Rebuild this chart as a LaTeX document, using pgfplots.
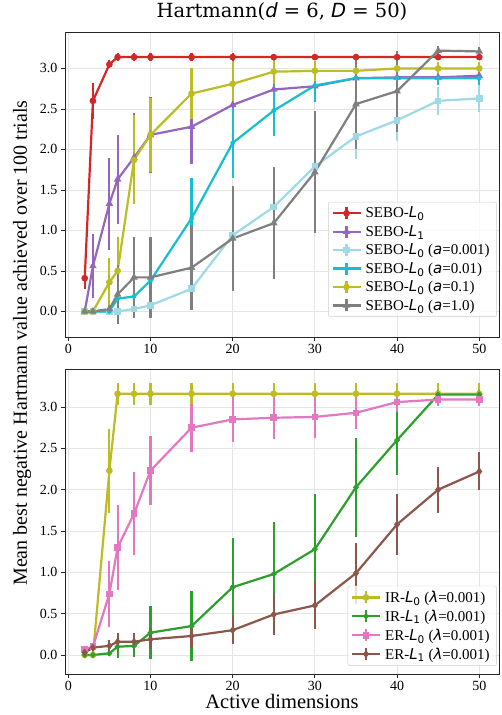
\documentclass[border=0pt]{standalone}
\usepackage{fontspec}
\setmainfont{Liberation Serif}
\newfontfamily\dv{DejaVu Sans}
\newfontfamily\dvs{DejaVu Serif}
\usepackage{pgfplots}
\pgfplotsset{compat=1.18}
\usepackage{pgfplotstable}

\definecolor{cred}{HTML}{D62728}
\definecolor{cpurple}{HTML}{9467BD}
\definecolor{clblue}{HTML}{9EDAE5}
\definecolor{ccyan}{HTML}{17BECF}
\definecolor{colive}{HTML}{BCBD22}
\definecolor{cgray}{HTML}{7F7F7F}
\definecolor{cgreen}{HTML}{2CA02C}
\definecolor{cpink}{HTML}{E377C2}
\definecolor{cbrown}{HTML}{8C564B}

\newcommand\mi[1]{{\dv\itshape #1}}
\newcommand\Ls[1]{\mi{L}\textsubscript{\dv #1}}

\pgfplotstableread{
x y e
2 0.41 0.13
3 2.60 0.22
5 3.05 0.05
6 3.14 0.05
8 3.14 0.05
10 3.14 0.05
15 3.14 0.05
20 3.14 0.05
25 3.14 0.04
30 3.14 0.04
35 3.14 0.04
40 3.14 0.04
45 3.14 0.04
50 3.14 0.04
}\tred
\pgfplotstableread{
x y e
2 0.0 0.03
3 0.56 0.40
5 1.33 0.57
6 1.63 0.55
8 1.90 0.55
10 2.18 0.47
15 2.28 0.46
20 2.55 0.30
25 2.74 0.25
30 2.78 0.20
35 2.88 0.10
40 2.89 0.08
45 2.89 0.08
50 2.91 0.07
}\tpurple
\pgfplotstableread{
x y e
2 0.0 0.0
3 0.0 0.0
5 0.0 0.0
6 0.0 0.02
8 0.03 0.04
10 0.075 0.08
15 0.28 0.25
20 0.94 0.35
25 1.29 0.40
30 1.79 0.35
35 2.16 0.28
40 2.36 0.26
45 2.60 0.17
50 2.63 0.17
}\tlblue
\pgfplotstableread{
x y e
2 0.0 0.0
3 0.0 0.0
5 0.0 0.01
6 0.157 0.10
8 0.185 0.15
10 0.38 0.35
15 1.15 0.50
20 2.08 0.43
25 2.48 0.31
30 2.79 0.20
35 2.88 0.10
40 2.88 0.10
45 2.88 0.08
50 2.88 0.08
}\tcyan
\pgfplotstableread{
x y e
2 0.0 0.0
3 0.0 0.0
5 0.36 0.30
6 0.50 0.42
8 1.87 0.55
10 2.18 0.46
15 2.69 0.31
20 2.81 0.28
25 2.96 0.15
30 2.97 0.12
35 2.97 0.10
40 3.00 0.08
45 3.00 0.08
50 3.00 0.08
}\tolive
\pgfplotstableread{
x y e
2 0.0 0.02
3 0.0 0.02
5 0.03 0.04
6 0.21 0.36
8 0.42 0.50
10 0.42 0.50
15 0.54 0.52
20 0.90 0.65
25 1.09 0.69
30 1.72 0.75
35 2.56 0.56
40 2.72 0.50
45 3.22 0.06
50 3.21 0.06
}\tgray
\pgfplotstableread{
x y e
2 0.0 0.0
3 0.0 0.0
5 2.23 0.51
6 3.16 0.13
8 3.16 0.13
10 3.16 0.13
15 3.16 0.13
20 3.16 0.13
25 3.16 0.13
30 3.16 0.13
35 3.16 0.13
40 3.16 0.13
45 3.16 0.13
50 3.16 0.13
}\tirlz
\pgfplotstableread{
x y e
2 0.0 0.0
3 0.0 0.01
5 0.02 0.03
6 0.10 0.14
8 0.11 0.14
10 0.27 0.32
15 0.35 0.42
20 0.82 0.60
25 0.98 0.63
30 1.28 0.67
35 2.03 0.60
40 2.60 0.42
45 3.15 0.05
50 3.15 0.05
}\tirlo
\pgfplotstableread{
x y e
2 0.07 0.02
3 0.10 0.03
5 0.74 0.40
6 1.30 0.51
8 1.71 0.50
10 2.23 0.42
15 2.75 0.29
20 2.85 0.27
25 2.87 0.26
30 2.88 0.26
35 2.93 0.20
40 3.06 0.12
45 3.09 0.08
50 3.09 0.08
}\terlz
\pgfplotstableread{
x y e
2 0.03 0.02
3 0.09 0.04
5 0.11 0.07
6 0.16 0.10
8 0.16 0.10
10 0.19 0.12
15 0.23 0.14
20 0.30 0.17
25 0.49 0.25
30 0.60 0.29
35 0.99 0.37
40 1.58 0.37
45 2.00 0.28
50 2.22 0.23
}\terlo

\pgfplotsset{
  myax/.style={
    scale only axis, width=434pt,
    xmin=-0.4, xmax=52.4,
    xtick={0,10,20,30,40,50},
    ytick={0,0.5,1.0,1.5,2.0,2.5,3.0},
    grid=major, grid style={black!10, line width=0.8pt},
    axis line style={line width=0.9pt, black!85},
    tick align=outside, tick pos=left, major tick length=4pt,
    tick style={black!85, line width=0.8pt},
    ticklabel style={font=\fontsize{14}{16}\selectfont},
    /pgf/number format/assume math mode=true,
    y tick label style={/pgf/number format/.cd, fixed, fixed zerofill, precision=1},
    x tick label style={/pgf/number format/.cd, fixed, precision=0},
    legend cell align=left,
    legend style={font=\fontsize{15}{17}\selectfont, draw=black!20, rounded corners=2pt,
      fill=white, fill opacity=0.8, text opacity=1, inner sep=3pt, row sep=2pt,
      nodes={inner xsep=4pt}},
  },
  ser/.style={color=#1, line width=2.2pt, mark size=2.2pt, mark options={solid, fill=#1},
    legend image code/.code={%
      \draw[mark repeat=2,mark phase=2] plot coordinates {(0pt,0pt)(14pt,0pt)(28pt,0pt)};
      \draw[mark=none] (14pt,-6pt) -- (14pt,6pt);},
    /pgfplots/error bars/y dir=both, /pgfplots/error bars/y explicit,
    /pgfplots/error bars/error mark=none,
    /pgfplots/error bars/error bar style={line width=2.2pt, #1}},
}

\begin{document}
\begin{tikzpicture}
\useasboundingbox (0,0) rectangle (502pt,715pt);
\begin{axis}[myax, at={(65pt,378pt)}, anchor=south west, height=305pt,
  ymin=-0.316, ymax=3.45,
  legend style={at={(0.995,0.066)}, anchor=south east}]
\addplot[ser=cred, mark=*] table[x=x, y=y, y error=e] {\tred};
\addlegendentry{SEBO-\Ls{0}}
\addplot[ser=cpurple, mark=triangle*] table[x=x, y=y, y error=e] {\tpurple};
\addlegendentry{SEBO-\Ls{1}}
\addplot[ser=clblue, mark=square*] table[x=x, y=y, y error=e] {\tlblue};
\addlegendentry{SEBO-\Ls{0} (\mi{a}=0.001)}
\addplot[ser=ccyan, mark=star] table[x=x, y=y, y error=e] {\tcyan};
\addlegendentry{SEBO-\Ls{0} (\mi{a}=0.01)}
\addplot[ser=colive, mark=*] table[x=x, y=y, y error=e] {\tolive};
\addlegendentry{SEBO-\Ls{0} (\mi{a}=0.1)}
\addplot[ser=cgray, mark=triangle*] table[x=x, y=y, y error=e] {\tgray};
\addlegendentry{SEBO-\Ls{0} (\mi{a}=1.0)}
\end{axis}
\begin{axis}[myax, at={(65pt,41pt)}, anchor=south west, height=305pt,
  ymin=-0.23, ymax=3.46,
  legend style={at={(0.995,0.027)}, anchor=south east}]
\addplot[ser=colive, mark=*] table[x=x, y=y, y error=e] {\tirlz};
\addlegendentry{IR-\Ls{0} (\mi{λ}=0.001)}
\addplot[ser=cgreen, mark=*, mark size=1.6pt] table[x=x, y=y, y error=e] {\tirlo};
\addlegendentry{IR-\Ls{1} (\mi{λ}=0.001)}
\addplot[ser=cpink, mark=square*] table[x=x, y=y, y error=e] {\terlz};
\addlegendentry{ER-\Ls{0} (\mi{λ}=0.001)}
\addplot[ser=cbrown, mark=diamond*] table[x=x, y=y, y error=e] {\terlo};
\addlegendentry{ER-\Ls{1} (\mi{λ}=0.001)}
\end{axis}
\node[anchor=base, font=\fontsize{19.5}{24}\selectfont\dvs] at (282pt,697pt) {Hartmann(\mi{d} = 6, \mi{D} = 50)};
\node[anchor=base, font=\fontsize{20.5}{24}\selectfont] at (282pt,6pt) {Active dimensions};
\node[rotate=90, font=\fontsize{20}{24}\selectfont] at (22pt,372pt) {Mean best negative Hartmann value achieved over 100 trials};
\end{tikzpicture}
\end{document}
